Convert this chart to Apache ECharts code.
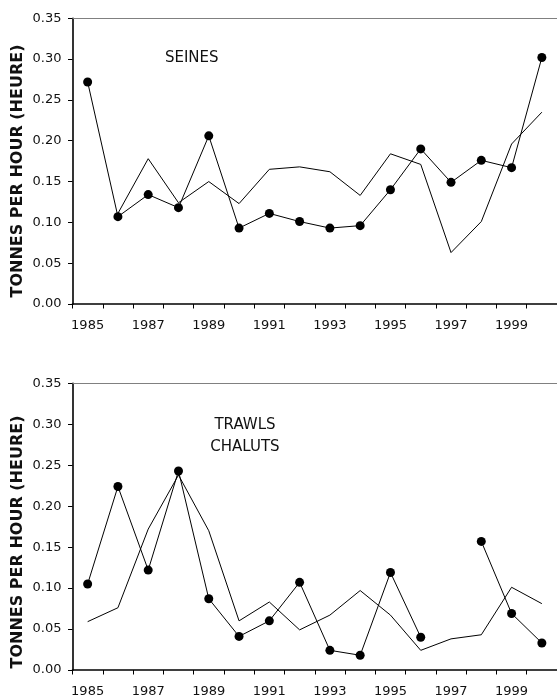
<!DOCTYPE html>
<html>
<head>
<meta charset="utf-8">
<script src="https://cdn.jsdelivr.net/npm/echarts@6/dist/echarts.min.js"></script>
<style>
  html, body { margin: 0; padding: 0; background: #fff; }
  #chart { width: 557px; height: 698px; }
</style>
</head>
<body>
<div id="chart"></div>
<script>
// Years on the horizontal axis
const years = ['1985','1986','1987','1988','1989','1990','1991','1992',
               '1993','1994','1995','1996','1997','1998','1999','2000'];

// Seines: catch rate (points) and companion series (plain line)
const seinesPoints = [0.272, 0.107, 0.134, 0.118, 0.206, 0.093, 0.111, 0.101,
                      0.093, 0.096, 0.140, 0.190, 0.149, 0.176, 0.167, 0.302];
const seinesLine   = [null, 0.111, 0.178, 0.124, 0.150, 0.123, 0.165, 0.168,
                      0.162, 0.133, 0.184, 0.171, 0.063, 0.101, 0.196, 0.235];

// Trawls: catch rate (points) and companion series (plain line)
const trawlsPoints = [0.105, 0.224, 0.122, 0.243, 0.087, 0.041, 0.060, 0.107,
                      0.024, 0.018, 0.119, 0.040, null, 0.157, 0.069, 0.033];
const trawlsLine   = [0.059, 0.076, 0.172, 0.238, 0.170, 0.060, 0.083, 0.049,
                      0.067, 0.097, 0.067, 0.024, 0.038, 0.043, 0.101, 0.081];

const yTicks = { min: 0, max: 0.35, interval: 0.05 };
const yTitle = 'TONNES PER HOUR (HEURE)';

const FONT = 'DejaVu Sans';
const INK = '#111';

const grids = [
  { left: 72.5, top: 18.3, width: 491, height: 285.7 },
  { left: 72.5, top: 383.3, width: 491, height: 286.7 }
];

function bottomAxis(gi) {
  return {
    type: 'category', gridIndex: gi, data: years, boundaryGap: true,
    axisLine: { lineStyle: { color: '#000', width: 1.6 } },
    axisTick: { show: true, interval: 0, length: 4.5, lineStyle: { color: '#000', width: 1 } },
    axisLabel: { interval: 1, margin: 15, color: INK, fontFamily: FONT, fontSize: 13 },
    splitLine: { show: false }
  };
}
function topBorder(gi) {
  return {
    type: 'category', gridIndex: gi, data: years, position: 'top',
    axisLine: { lineStyle: { color: '#808080', width: 1 } },
    axisTick: { show: false }, axisLabel: { show: false }, splitLine: { show: false }
  };
}
function leftAxis(gi) {
  return {
    type: 'value', gridIndex: gi, min: yTicks.min, max: yTicks.max, interval: yTicks.interval,
    axisLine: { show: true, lineStyle: { color: '#000', width: 1.6 } },
    axisTick: { show: true, length: 4.5, lineStyle: { color: '#000', width: 1 } },
    axisLabel: { margin: 11, color: INK, fontFamily: FONT, fontSize: 13,
                 formatter: v => v.toFixed(2) },
    splitLine: { show: false }
  };
}
function dots(xi, yi, data) {
  return {
    type: 'line', xAxisIndex: xi, yAxisIndex: yi, data: data,
    symbol: 'circle', symbolSize: 9, showSymbol: true,
    itemStyle: { color: '#000' }, lineStyle: { color: '#000', width: 1 },
    connectNulls: false, z: 3
  };
}
function plain(xi, yi, data) {
  return {
    type: 'line', xAxisIndex: xi, yAxisIndex: yi, data: data,
    symbol: 'none', lineStyle: { color: '#000', width: 1 }, z: 2
  };
}
function label(x, y, text, size, weight, rot) {
  return {
    type: 'text', x: x, y: y, rotation: rot || 0,
    style: { text: text, fill: INK, font: (weight || 'normal') + ' ' + size + 'px "' + FONT + '"',
             textAlign: 'center', textVerticalAlign: 'middle' }
  };
}

const chart = echarts.init(document.getElementById('chart'), null, { renderer: 'canvas' });
chart.setOption({
  animation: false,
  backgroundColor: '#fff',
  grid: grids,
  xAxis: [bottomAxis(0), topBorder(0), bottomAxis(1), topBorder(1)],
  yAxis: [leftAxis(0), leftAxis(1)],
  series: [
    plain(0, 0, seinesLine),
    dots(0, 0, seinesPoints),
    plain(2, 1, trawlsLine),
    dots(2, 1, trawlsPoints)
  ],
  graphic: [
    label(17.5, 171, yTitle, 16, 'bold', Math.PI / 2),
    label(17.5, 542, yTitle, 16, 'bold', Math.PI / 2),
    label(191.7, 57.7, 'SEINES', 15),
    label(245, 425.5, 'TRAWLS', 15),
    label(245, 447.5, 'CHALUTS', 15)
  ]
});
</script>
</body>
</html>
